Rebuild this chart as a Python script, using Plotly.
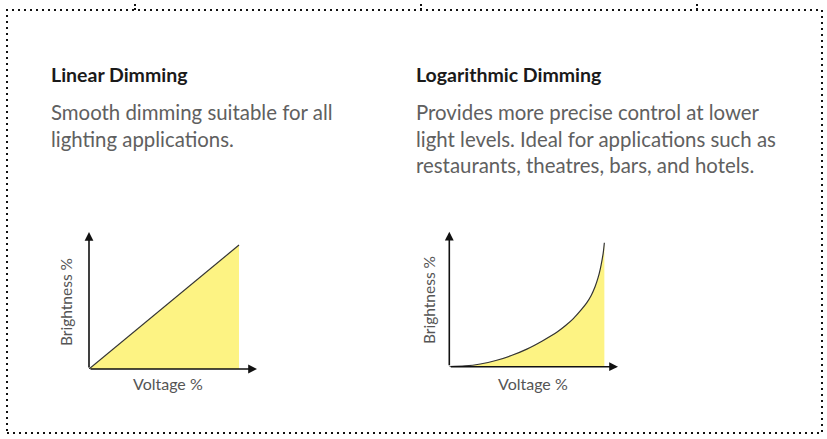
import plotly.graph_objects as go

W, H = 827, 439

# ---- data ----
linear_voltage = [0, 100]
linear_brightness = [0, 100]

log_voltage = [0, 10, 20, 30, 40, 50, 60, 70, 75, 80, 85, 88.6, 91.5, 94, 96, 97.4, 98.5, 99.3, 100]
log_brightness = [0, 0.6, 2.2, 5, 9, 14.2, 20.8, 28.4, 33.2, 38.8, 45.8, 51.5, 57.5, 64.5, 72, 79, 86, 92, 100]

titles = ["Linear Dimming", "Logarithmic Dimming"]
descriptions = [
    "Smooth dimming suitable for all<br>lighting applications.",
    "Provides more precise control at lower<br>light levels. Ideal for applications such as<br>restaurants, theatres, bars, and hotels.",
]
x_label = "Voltage %"
y_label = "Brightness %"

FILL = "#fdf383"
LINE = "#333333"
AXIS = "#111111"
FONT = "Lato"


def px(x):
    return x / W


def py(y):
    return 1 - y / H


fig = go.Figure()

fig.add_trace(go.Scatter(
    x=linear_voltage, y=linear_brightness, mode="lines",
    line=dict(color=LINE, width=1.2), fill="tozeroy", fillcolor=FILL,
    xaxis="x", yaxis="y", hoverinfo="skip", showlegend=False))

fig.add_trace(go.Scatter(
    x=log_voltage, y=log_brightness, mode="lines",
    line=dict(color=LINE, width=1.2, shape="spline", smoothing=0.8),
    fill="tozeroy", fillcolor=FILL,
    xaxis="x2", yaxis="y2", hoverinfo="skip", showlegend=False))

ax_common = dict(visible=False, showgrid=False, zeroline=False, fixedrange=True)

fig.update_layout(
    width=W, height=H,
    margin=dict(l=0, r=0, t=0, b=0),
    paper_bgcolor="white", plot_bgcolor="rgba(0,0,0,0)",
    showlegend=False,
    xaxis=dict(domain=[px(89), px(257)], range=[0, 112], **ax_common),
    yaxis=dict(domain=[py(369), py(232)], range=[0, 110.5], **ax_common),
    xaxis2=dict(domain=[px(449.3), px(618)], range=[0, 108.8], anchor="y2", **ax_common),
    yaxis2=dict(domain=[py(366.7), py(231.7)], range=[0, 108.9], anchor="x2", **ax_common),
)

annotations = []
# axis arrows
for xr, yr, xmax, ymax in [("x", "y", 112, 110.5), ("x2", "y2", 108.8, 108.9)]:
    for (tx, ty) in [(xmax, 0), (0, ymax)]:
        annotations.append(dict(
            x=tx, y=ty, ax=0, ay=0, xref=xr, yref=yr, axref=xr, ayref=yr,
            text="", showarrow=True, arrowhead=2, arrowsize=1.1,
            arrowwidth=1.6, arrowcolor=AXIS, standoff=0, startstandoff=0))

# titles / descriptions
for x0, t, d in [(50, titles[0], descriptions[0]), (415, titles[1], descriptions[1])]:
    annotations.append(dict(
        x=px(x0 - 1), y=py(75), xref="paper", yref="paper", xanchor="left", yanchor="middle",
        text="<b>" + t + "</b>", showarrow=False,
        font=dict(family=FONT, size=19.5, color="#1a1a1a")))
    annotations.append(dict(
        x=px(x0 - 1), y=py(98), xref="paper", yref="paper", xanchor="left", yanchor="top",
        text=d, showarrow=False, align="left",
        font=dict(family=FONT, size=20.4, color="#606060")))

# axis labels
for cx, bx, by in [(168, 66, 302), (533, 429, 300)]:
    annotations.append(dict(
        x=px(cx), y=py(383), xref="paper", yref="paper", xanchor="center", yanchor="middle",
        text=x_label, showarrow=False, font=dict(family=FONT, size=16, color="#555555")))
    annotations.append(dict(
        x=px(bx), y=py(by), xref="paper", yref="paper", xanchor="center", yanchor="middle",
        text=y_label, textangle=-90, showarrow=False,
        font=dict(family=FONT, size=15.5, color="#555555")))

fig.update_layout(annotations=annotations)

# dotted frame
shapes = [dict(type="rect", xref="paper", yref="paper",
               x0=px(7), x1=px(822), y0=py(433), y1=py(10),
               line=dict(color="#111111", width=2, dash="2px,4px"))]
for mx in [135, 421, 697]:
    shapes.append(dict(type="line", xref="paper", yref="paper",
                       x0=px(mx), x1=px(mx), y0=py(10), y1=py(4),
                       line=dict(color="#111111", width=2, dash="2px,2px")))
fig.update_layout(shapes=shapes)

fig.write_html("out.html", config={"displayModeBar": False},
               post_script="document.body.style.margin='0';document.body.style.overflow='hidden';")
